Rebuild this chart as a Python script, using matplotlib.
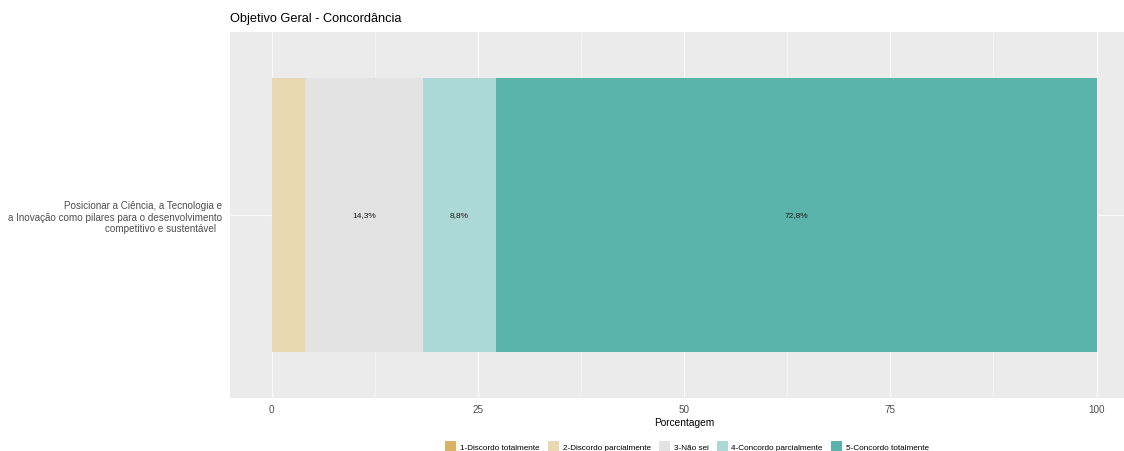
import matplotlib.pyplot as plt
from matplotlib.patches import Patch

plt.rcParams['font.family'] = ['Liberation Sans', 'DejaVu Sans']

# stacked agreement shares (percent)
categories = ["1-Discordo totalmente", "2-Discordo parcialmente", "3-Não sei",
              "4-Concordo parcialmente", "5-Concordo totalmente"]
values = [0.0, 4.1, 14.3, 8.8, 72.8]
colors = ["#D8B365", "#EAD8B2", "#E3E3E3", "#ACD8D5", "#5BB4AC"]
item = "Posicionar a Ciência, a Tecnologia e\na Inovação como pilares para o desenvolvimento\ncompetitivo e sustentável  "
xticks = [0, 25, 50, 75, 100]

W, H = 1124, 452
fig = plt.figure(figsize=(W / 100, H / 100), dpi=100)
ax = fig.add_axes([230.25 / W, 53 / H, 907.5 / W, 366 / H])
ax.set_facecolor("#EBEBEB")
for s in ax.spines.values():
    s.set_visible(False)

# grid lines in ggplot style
for x in [12.5, 37.5, 62.5, 87.5]:
    ax.axvline(x, color="#F7F7F7", lw=0.5, zorder=0)
for x in xticks:
    ax.axvline(x, color="#FAFAFA", lw=0.9, zorder=0)
ax.axhline(1, color="#FAFAFA", lw=0.9, zorder=0)

left = 0
for cat, v, c in zip(categories, values, colors):
    ax.barh(1, v, left=left, height=0.9, color=c, zorder=2)
    if v >= 5:
        ax.text(left + v / 2, 1, f"{v:.1f}%".replace(".", ","), ha="center", va="center",
                fontsize=6.0, color="#1A1A1A", zorder=3)
    left += v

ax.set_xlim(-5, 105)
ax.set_ylim(0.4, 1.6)
ax.set_xticks(xticks)
ax.set_xticklabels([str(t) for t in xticks])
ax.set_yticks([1])
ax.set_yticklabels([item], multialignment="right", linespacing=1.15)
ax.tick_params(axis="both", length=0, labelsize=7.1, labelcolor="#4D4D4D")
ax.tick_params(axis="x", pad=4.5)
ax.tick_params(axis="y", pad=6)
ax.set_xlabel("Porcentagem", fontsize=7.3, labelpad=2, color="black")

fig.text(230 / W, 1 - 19 / H, "Objetivo Geral - Concordância", fontsize=9.2,
         ha="left", va="center")

handles = [Patch(facecolor=c, edgecolor="none") for c in colors]
fig.legend(handles, categories, loc="center", bbox_to_anchor=(687 / W, 1 - 447 / H),
           ncol=5, frameon=False, fontsize=5.9, handlelength=1.35, handleheight=1.35,
           handletextpad=0.45, columnspacing=1.0, borderaxespad=0)

fig.savefig("out.png", dpi=100)
